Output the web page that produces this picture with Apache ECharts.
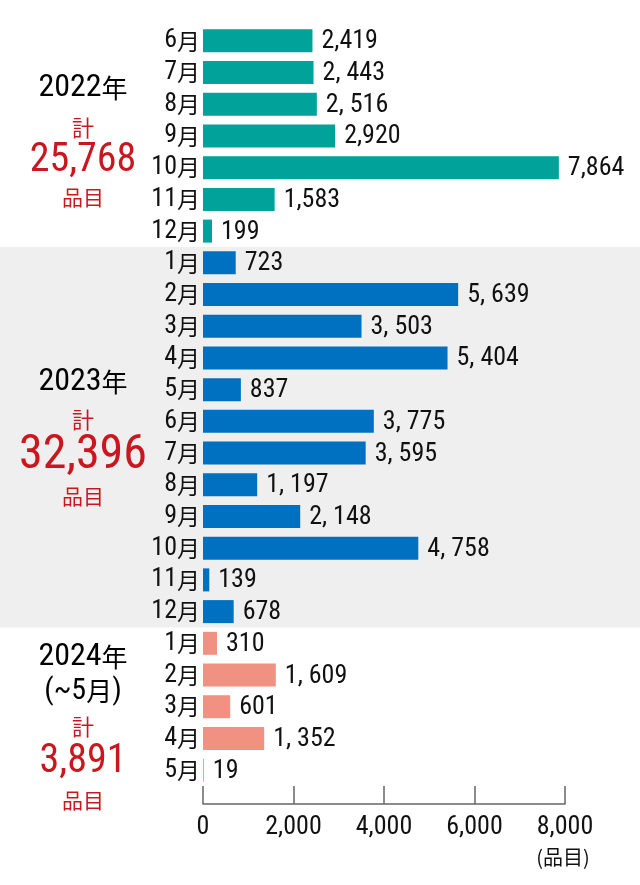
<!DOCTYPE html>
<html><head><meta charset="utf-8">
<script src="https://cdn.jsdelivr.net/npm/echarts@6/dist/echarts.min.js"></script>
<style>html,body{margin:0;padding:0;background:#fff}#c{width:640px;height:885px}</style>
</head><body><div id="c"></div>
<script>
// ---- data ----
const years = ['2022','2022','2022','2022','2022','2022','2022',
  '2023','2023','2023','2023','2023','2023','2023','2023','2023','2023','2023','2023',
  '2024','2024','2024','2024','2024'];
const months = ['6','7','8','9','10','11','12',
  '1','2','3','4','5','6','7','8','9','10','11','12',
  '1','2','3','4','5'];
const values = [2419,2443,2516,2920,7864,1583,199,
  723,5639,3503,5404,837,3775,3595,1197,2148,4758,139,678,
  310,1609,601,1352,19];
const valueLabels = ['2,419','2, 443','2, 516','2,920','7,864','1,583','199',
  '723','5, 639','3, 503','5, 404','837','3, 775','3, 595','1, 197','2, 148','4, 758','139','678',
  '310','1, 609','601','1, 352','19'];
const xTicks = [0,2000,4000,6000,8000];
const yearTitles = ['2022','2023','2024'];
const yearTotals = ['25,768','32,396','3,891'];
const unitLabel = '(品目)';

const categories = years.map((y,i)=> y + '-' + months[i]);
const colorOf = {'2022':'#00a29a','2023':'#0071c0','2024':'#f19181'};

const NARROW = "'Liberation Sans Narrow','Roboto Condensed','Liberation Sans',sans-serif";
const CJK = "'Noto Sans CJK JP',sans-serif";
const RED = '#c9161f';

const chart = echarts.init(document.getElementById('c'), null, {renderer:'canvas'});
const option = {
  animation:false,
  grid:{left:203, right:75, top:25, bottom:99, containLabel:false},
  xAxis:{type:'value', min:xTicks[0], max:xTicks[xTicks.length-1], interval:2000,
    position:'bottom', offset:18,
    axisLine:{show:true, lineStyle:{color:'#666', width:1.5}},
    axisTick:{show:true, inside:true, length:18, lineStyle:{color:'#666', width:1.5}},
    splitLine:{show:false},
    axisLabel:{margin:10, color:'#111', fontFamily:NARROW, fontSize:26,
      formatter:v=>v.toLocaleString('en-US')}},
  yAxis:{type:'category', data:categories, inverse:true,
    axisLine:{show:false}, axisTick:{show:false},
    axisLabel:{margin:3, align:'right',
      formatter:v=>'{n|'+v.split('-')[1]+'}{m|月}',
      rich:{n:{fontFamily:NARROW, fontSize:26, color:'#111'},
            m:{fontFamily:CJK, fontSize:23, color:'#111'}}}},
  series:[{type:'bar', barWidth:23, z:5,
    data:values.map((v,i)=>({value:v, itemStyle:{color:colorOf[years[i]]}})),
    label:{show:true, position:'right', distance:9, offset:[0,1], color:'#111',
      fontFamily:NARROW, fontSize:26,
      formatter:p=>valueLabels[p.dataIndex]}}]
};
chart.setOption(option);

const half = (chart.convertToPixel({yAxisIndex:0}, categories[1]) - chart.convertToPixel({yAxisIndex:0}, categories[0]))/2;
const first23 = years.indexOf('2023'), last23 = years.lastIndexOf('2023');
const yTop23 = chart.convertToPixel({yAxisIndex:0}, categories[first23]) - half;
const yBot23 = chart.convertToPixel({yAxisIndex:0}, categories[last23]) + half;
const x8000 = chart.convertToPixel({xAxisIndex:0}, xTicks[4]);

function txt(t, cx, cy, font, size, color){
  return {type:'text', style:{text:t, x:cx, y:cy, align:'center', verticalAlign:'middle',
    font: size+'px '+font, fill:color}};
}
function title(t, cy){
  return {type:'text', style:{text:'{n|'+t+'}{m|年}', x:83, y:cy, align:'center', verticalAlign:'middle',
    rich:{n:{fontFamily:NARROW, fontSize:32, color:'#111'}, m:{fontFamily:CJK, fontSize:26, color:'#111'}}}};
}
const g = [
  {type:'rect', z:-10, shape:{x:0, y:yTop23, width:640, height:yBot23-yTop23}, style:{fill:'#efefef'}},
  title(yearTitles[0], 88),
  txt('計', 83, 128, CJK, 22, RED),
  txt(yearTotals[0], 83, 161, NARROW, 40, RED),
  txt('品目', 83, 197, CJK, 21, RED),
  title(yearTitles[1], 382),
  txt('計', 83, 420, CJK, 22, RED),
  txt(yearTotals[1], 83, 456, NARROW, 48, RED),
  txt('品目', 83, 496, CJK, 21, RED),
  title(yearTitles[2], 657),
  {type:'text', style:{text:'{n|(~5}{m|月}{n|)}', x:83, y:691, align:'center', verticalAlign:'middle',
    rich:{n:{fontFamily:NARROW, fontSize:30, color:'#111'}, m:{fontFamily:CJK, fontSize:26, color:'#111'}}}},
  txt('計', 83, 727, CJK, 22, RED),
  txt(yearTotals[2], 83, 762, NARROW, 40, RED),
  txt('品目', 83, 800, CJK, 21, RED),
  txt(unitLabel, x8000-2, 857, CJK, 20, '#111')
];
chart.setOption({graphic:g});
</script></body></html>
